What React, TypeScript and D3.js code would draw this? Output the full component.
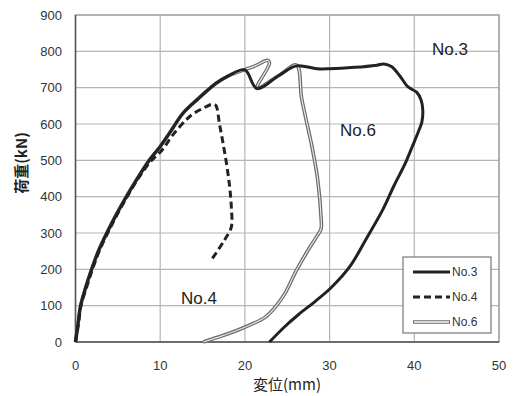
import React from "react";
import * as d3 from "d3";

type P = [number, number];

const xTicks = [0, 10, 20, 30, 40, 50];
const yTicks = [0, 100, 200, 300, 400, 500, 600, 700, 800, 900];

const envelope: P[] = [
  [0, 0], [0.3, 50], [0.6, 100], [1.2, 150], [1.9, 200], [2.7, 250], [3.7, 300],
  [4.8, 350], [6.0, 400], [7.3, 450], [8.7, 500], [10.0, 538], [11.1, 575],
  [12.7, 630], [14.5, 670], [16.6, 712], [18.0, 732], [20.0, 749],
];

const no3Tail: P[] = [
  [21.4, 698], [24.1, 735], [26.1, 760], [28.5, 752], [30.0, 752], [33.0, 756],
  [35.6, 762], [36.4, 765], [37.3, 758], [38.3, 732], [39.1, 706], [39.6, 697],
  [40.3, 687], [40.8, 666], [41.0, 639], [40.9, 606], [40.5, 580], [39.8, 540],
  [38.9, 490], [37.6, 430], [36.3, 365], [34.3, 283], [32.4, 208], [30.2, 150],
  [28.2, 110], [26.3, 75], [24.6, 40], [22.9, 0],
];

const no6Tail: P[] = [
  [21.2, 760], [22.7, 775], [22.9, 767], [21.4, 698], [24.1, 735], [26.1, 762],
  [26.7, 671], [28.0, 528], [28.6, 446], [29.0, 340], [29.0, 312], [28.7, 298],
  [27.7, 262], [26.1, 198], [24.5, 125], [22.5, 70], [20.6, 47], [19.4, 35],
  [17.3, 17], [15.1, 0],
];

const no4Data: P[] = [
  [0, 0], [0.35, 50], [0.65, 100], [1.3, 150], [2.0, 200], [2.8, 250], [3.8, 300],
  [4.9, 350], [6.1, 400], [7.4, 450], [8.8, 495], [10.2, 528], [11.5, 570],
  [13.0, 610], [13.9, 628], [15.2, 645], [16.3, 655], [16.6, 650], [17.0, 600],
  [17.4, 550], [17.9, 480], [18.2, 427], [18.4, 370], [18.4, 317], [17.6, 281],
  [15.9, 221],
];

const no3Data: P[] = [...envelope, ...no3Tail];
const no6Data: P[] = [...envelope.slice(0, -1), ...no6Tail];

const seriesNames = ["No.3", "No.4", "No.6"];

const W = 520;
const H = 396;
const left = 75.5;
const right = 499;
const top = 15;
const bottom = 342;

export default function App() {
  const x = d3.scaleLinear().domain([0, 50]).range([left, right]);
  const y = d3.scaleLinear().domain([0, 900]).range([bottom, top]);
  const line = d3
    .line<P>()
    .x((d) => x(d[0]))
    .y((d) => y(d[1]))
    .curve(d3.curveCatmullRom.alpha(0.5));

  const tickFont = "'Liberation Sans', Arial, sans-serif";
  const cjkFont = "'Noto Sans CJK JP', 'Liberation Sans', sans-serif";

  const legX = 403;
  const legY = 257;
  const legRows = [272, 297, 322];

  return (
    <svg
      width={W}
      height={H}
      style={{ position: "absolute", left: 0, top: 0, background: "#fff" }}
    >
      {/* grid */}
      {xTicks.map((t) => (
        <line key={"gx" + t} x1={x(t)} x2={x(t)} y1={top} y2={bottom} stroke="#b5b5b5" strokeWidth={1.2} />
      ))}
      {yTicks.map((t) => (
        <line key={"gy" + t} x1={left} x2={right} y1={y(t)} y2={y(t)} stroke="#b5b5b5" strokeWidth={1.2} />
      ))}
      <rect x={left} y={top} width={right - left} height={bottom - top} fill="none" stroke="#9a9a9a" strokeWidth={1.2} />
      <line x1={left} x2={left} y1={top} y2={bottom} stroke="#555" strokeWidth={1.5} />
      <line x1={left} x2={right} y1={bottom} y2={bottom} stroke="#555" strokeWidth={1.5} />

      {/* tick labels */}
      {xTicks.map((t) => (
        <text key={"tx" + t} x={x(t)} y={370} textAnchor="middle" fontFamily={tickFont} fontSize={13} fill="#333">
          {t}
        </text>
      ))}
      {yTicks.map((t) => (
        <text key={"ty" + t} x={62} y={y(t) + 4.5} textAnchor="end" fontFamily={tickFont} fontSize={13} fill="#333">
          {t}
        </text>
      ))}

      {/* axis titles */}
      <text x={287} y={390} textAnchor="middle" fontFamily={cjkFont} fontSize={15} fill="#222">
        変位(mm)
      </text>
      <text
        transform={`translate(27,163) rotate(-90)`}
        textAnchor="middle"
        fontFamily={cjkFont}
        fontSize={15}
        fontWeight="bold"
        fill="#222"
      >
        荷重(kN)
      </text>

      {/* No.6 double line */}
      <path d={line(no6Data) || ""} fill="none" stroke="#6a6a6a" strokeWidth={3.6} strokeLinejoin="round" />
      <path d={line(no6Data) || ""} fill="none" stroke="#e8e8e8" strokeWidth={1.2} strokeLinejoin="round" />

      {/* No.4 dashed */}
      <path
        d={line(no4Data) || ""}
        fill="none"
        stroke="#222"
        strokeWidth={3}
        strokeDasharray="7,4"
      />

      {/* No.3 solid */}
      <path d={line(no3Data) || ""} fill="none" stroke="#222" strokeWidth={3} strokeLinejoin="round" />

      {/* annotations */}
      <text x={432} y={55} fontFamily={tickFont} fontSize={17} fill="#222">No.3</text>
      <text x={340} y={136} fontFamily={tickFont} fontSize={17} fill="#222">No.6</text>
      <text x={181} y={304} fontFamily={tickFont} fontSize={17} fill="#222">No.4</text>

      {/* legend */}
      <rect x={legX} y={legY} width={88} height={76} fill="#fff" stroke="#777" strokeWidth={1.2} />
      <line x1={413} x2={450} y1={legRows[0]} y2={legRows[0]} stroke="#222" strokeWidth={3} />
      <line x1={413} x2={450} y1={legRows[1]} y2={legRows[1]} stroke="#222" strokeWidth={3} strokeDasharray="7,4" />
      <line x1={413} x2={450} y1={legRows[2]} y2={legRows[2]} stroke="#6a6a6a" strokeWidth={3.6} />
      <line x1={414} x2={449} y1={legRows[2]} y2={legRows[2]} stroke="#fff" strokeWidth={1.4} />
      {seriesNames.map((n, i) => (
        <text key={n} x={452} y={legRows[i] + 4} fontFamily={tickFont} fontSize={12} fill="#333">
          {n}
        </text>
      ))}
    </svg>
  );
}
